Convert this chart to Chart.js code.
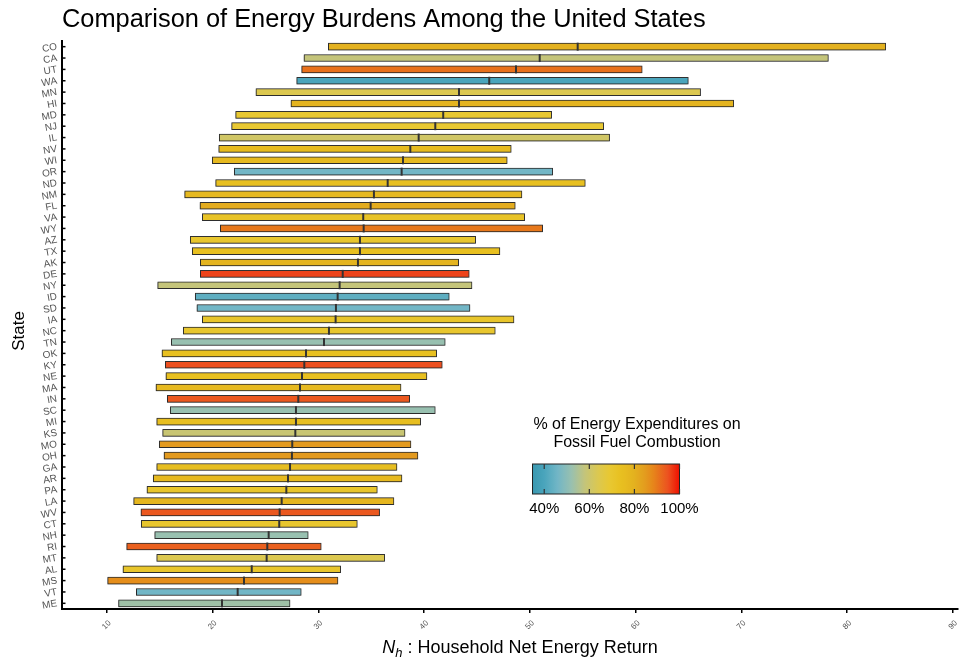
<!DOCTYPE html>
<html>
<head>
<meta charset="utf-8">
<script src="https://cdn.jsdelivr.net/npm/chart.js@4.4.1/dist/chart.umd.min.js"></script>
<style>
  html, body { margin: 0; padding: 0; background: #fff; }
  #wrap { width: 960px; height: 658px; }
</style>
</head>
<body>
<div id="wrap"><canvas id="myChart" width="960" height="658"></canvas></div>
<script>
const states = ['CO','CA','UT','WA','MN','HI','MD','NJ','IL','NV','WI','OR','ND','NM','FL','VA','WY','AZ','TX','AK',
  'DE','NY','ID','SD','IA','NC','TN','OK','KY','NE','MA','IN','SC','MI','KS','MO','OH','GA','AR','PA',
  'LA','WV','CT','NH','RI','MT','AL','MS','VT','ME'];
const lowNh = [30.95,28.65,28.43,27.96,24.11,27.42,22.19,21.81,20.64,20.59,19.98,22.06,20.30,17.37,18.82,19.04,20.74,17.90,18.09,18.85,
  18.85,14.82,18.37,18.53,19.04,17.24,16.11,15.23,15.54,15.60,14.66,15.73,16.01,14.73,15.29,14.97,15.42,14.73,14.40,13.81,
  12.55,13.24,13.27,14.54,11.89,14.73,11.54,10.09,12.80,11.12];
const highNh = [83.64,78.22,60.62,64.98,66.14,69.27,52.06,56.98,57.54,48.24,47.86,52.16,55.24,49.25,48.62,49.51,51.21,44.88,47.17,43.27,
  44.27,44.53,42.38,44.34,48.50,46.73,42.00,41.19,41.72,40.27,37.82,38.64,41.06,39.68,38.20,38.76,39.42,37.44,37.91,35.58,
  37.15,35.80,33.69,29.05,30.28,36.28,32.12,31.86,28.39,27.33];
const medianNh = [54.52,50.93,48.69,46.16,43.30,43.30,41.81,41.06,39.49,38.70,38.01,37.88,36.56,35.26,34.95,34.25,34.29,33.94,33.94,33.75,
  32.31,32.02,31.83,31.67,31.64,31.01,30.54,28.84,28.68,28.46,28.27,28.11,27.89,27.89,27.83,27.54,27.51,27.33,27.14,26.98,
  26.54,26.35,26.31,25.31,25.18,25.12,23.71,22.98,22.38,20.90];
const fossilPct = [80,58,91,40,64,79,69,69,61,76,77,46,74,77,81,72,90,70,74,79,
  96,58,43,46,71,70,52,74,95,74,77,94,52,75,59,85,85,75,77,71,
  78,94,70,52,93,64,71,87,46,53];
const xTickValues = [10,20,30,40,50,60,70,80,90];
const legendTicks = [40,60,80,100];

// colour scale for % of expenditures on fossil fuel combustion
const cmapStops = [35,40,46,52,58,64,69,74,80,85,88,91,95,100];
const cmapColors = ['#3a98b0','#4aa5bc','#72b6c6','#98c0b0','#c4c47a','#dcc850','#e8c832','#e8c020',
  '#e3b11f','#e39a1e','#e6881a','#e8701c','#ec5020','#f01000'];

function hexToRgb(h) {
    return [parseInt(h.substr(1,2),16), parseInt(h.substr(3,2),16), parseInt(h.substr(5,2),16)];
}

function colorFor(p) {
    if (p <= cmapStops[0]) return cmapColors[0];
    for (let i = 1; i < cmapStops.length; i++) {
        if (p <= cmapStops[i]) {
            let t = (p - cmapStops[i-1]) / (cmapStops[i] - cmapStops[i-1]);
            let a = hexToRgb(cmapColors[i-1]), b = hexToRgb(cmapColors[i]);
            let c = a.map((v, k) => Math.round(v + (b[k] - v) * t));
            return `rgb(${c[0]},${c[1]},${c[2]})`;
        }
    }
    return cmapColors[cmapColors.length - 1];
}

const FONT = "'Liberation Sans', Arial, Helvetica, sans-serif";

const barShadow = {
    id: 'barShadow',
    beforeDatasetDraw(chart, args) {
        if (args.meta.type !== 'bar') return;
        const ctx = chart.ctx;
        ctx.save();
        ctx.shadowColor = 'rgba(0,0,0,0.35)';
        ctx.shadowBlur = 2;
        ctx.shadowOffsetX = -0.5;
        ctx.shadowOffsetY = 0.5;
    },
    afterDatasetDraw(chart, args) {
        if (args.meta.type !== 'bar') return;
        chart.ctx.restore();
    }
};

const extras = {
    id: 'extras',
    afterDraw(chart) {
        const ctx = chart.ctx;
        const xs = chart.scales.x, ys = chart.scales.y;
        const area = chart.chartArea;
        ctx.save();

        // title
        ctx.fillStyle = '#000';
        ctx.font = `25.4px ${FONT}`;
        ctx.textAlign = 'left';
        ctx.textBaseline = 'alphabetic';
        ctx.fillText('Comparison of Energy Burdens Among the United States', 62, 27);

        // y tick marks (inside)
        ctx.strokeStyle = '#000';
        ctx.lineWidth = 1.5;
        states.forEach((s, i) => {
            const y = ys.getPixelForValue(i);
            ctx.beginPath();
            ctx.moveTo(area.left, y);
            ctx.lineTo(area.left + 3.5, y);
            ctx.stroke();
        });

        // x tick labels, rotated
        ctx.fillStyle = '#555';
        ctx.font = `8px ${FONT}`;
        ctx.textAlign = 'center';
        ctx.textBaseline = 'middle';
        xTickValues.forEach(v => {
            const x = xs.getPixelForValue(v);
            ctx.save();
            ctx.translate(x, 625);
            ctx.rotate(-Math.PI / 4);
            ctx.fillText(String(v), 0, 0);
            ctx.restore();
        });

        // x axis title with italic N_h
        ctx.fillStyle = '#000';
        ctx.textBaseline = 'alphabetic';
        ctx.textAlign = 'left';
        const rest = ' : Household Net Energy Return';
        ctx.font = `italic 18px ${FONT}`;
        const wN = ctx.measureText('N').width;
        ctx.font = `italic 13px ${FONT}`;
        const wH = ctx.measureText('h').width;
        ctx.font = `18px ${FONT}`;
        const wR = ctx.measureText(rest).width;
        let x0 = 520 - (wN + wH + wR) / 2;
        const base = 653;
        ctx.font = `italic 18px ${FONT}`;
        ctx.fillText('N', x0, base);
        ctx.font = `italic 13px ${FONT}`;
        ctx.fillText('h', x0 + wN, base + 4);
        ctx.font = `18px ${FONT}`;
        ctx.fillText(rest, x0 + wN + wH, base);

        // y axis title
        ctx.save();
        ctx.translate(24, 331);
        ctx.rotate(-Math.PI / 2);
        ctx.textAlign = 'center';
        ctx.font = `17px ${FONT}`;
        ctx.fillText('State', 0, 0);
        ctx.restore();

        // colour bar legend
        const lx0 = 532.5, lx1 = 679.5, ly0 = 464, ly1 = 494;
        const pMin = 34.8, pMax = 100;
        const px = p => lx0 + (p - pMin) / (pMax - pMin) * (lx1 - lx0);
        const grad = ctx.createLinearGradient(lx0, 0, lx1, 0);
        for (let p = pMin; p <= pMax + 0.01; p += 1) {
            grad.addColorStop(Math.min(1, (p - pMin) / (pMax - pMin)), colorFor(p));
        }
        ctx.fillStyle = grad;
        ctx.fillRect(lx0, ly0, lx1 - lx0, ly1 - ly0);
        ctx.strokeStyle = '#222';
        ctx.lineWidth = 1;
        ctx.strokeRect(lx0, ly0, lx1 - lx0, ly1 - ly0);
        ctx.strokeStyle = '#333';
        ctx.lineWidth = 1.2;
        legendTicks.forEach(p => {
            const x = px(p);
            ctx.beginPath();
            ctx.moveTo(x, ly0); ctx.lineTo(x, ly0 + 5);
            ctx.moveTo(x, ly1); ctx.lineTo(x, ly1 - 5);
            ctx.stroke();
        });
        ctx.fillStyle = '#000';
        ctx.textAlign = 'center';
        ctx.textBaseline = 'middle';
        ctx.font = `15px ${FONT}`;
        legendTicks.forEach(p => ctx.fillText(p + '%', px(p), 509));
        ctx.font = `16px ${FONT}`;
        ctx.fillText('% of Energy Expenditures on', 637, 425);
        ctx.fillText('Fossil Fuel Combustion', 637, 443);

        ctx.restore();
    }
};

ctx = document.getElementById('myChart').getContext('2d');

const grafica = new Chart(ctx, {
    type: 'bar',
    data: {
        labels: states,
        datasets: [
            {
                type: 'scatter',
                label: 'Median',
                data: medianNh.map((m, i) => ({ x: m, y: states[i] })),
                pointStyle: 'line',
                rotation: 90,
                radius: 4,
                borderColor: '#333',
                borderWidth: 2,
                order: 0
            },
            {
                label: 'Range',
                data: states.map((s, i) => [lowNh[i], highNh[i]]),
                backgroundColor: fossilPct.map(colorFor),
                borderColor: '#333',
                borderWidth: 1,
                borderSkipped: false,
                barThickness: 7,
                order: 1
            }
        ]
    },
    options: {
        indexAxis: 'y',
        responsive: false,
        animation: false,
        layout: { autoPadding: false, padding: { left: 0, right: 2, top: 41, bottom: 0 } },
        plugins: {
            legend: { display: false },
            tooltip: { enabled: false },
            title: { display: false }
        },
        scales: {
            x: {
                type: 'linear',
                min: 5.775,
                max: 90.47,
                afterBuildTicks: scale => { scale.ticks = xTickValues.map(v => ({ value: v })); },
                afterFit: scale => { scale.height = 49; },
                ticks: { display: false },
                grid: { drawOnChartArea: false, drawTicks: true, tickLength: 4, color: '#000', lineWidth: 1.5 },
                border: { display: true, color: '#000', width: 2 }
            },
            y: {
                type: 'category',
                afterFit: scale => { scale.width = 62; },
                ticks: {
                    color: '#555',
                    font: { size: 10, family: FONT },
                    padding: 5,
                    autoSkip: false,
                    minRotation: 10,
                    maxRotation: 10
                },
                grid: { drawOnChartArea: false, drawTicks: false },
                border: { display: true, color: '#000', width: 2 }
            }
        }
    },
    plugins: [barShadow, extras]
});
</script>
</body>
</html>
